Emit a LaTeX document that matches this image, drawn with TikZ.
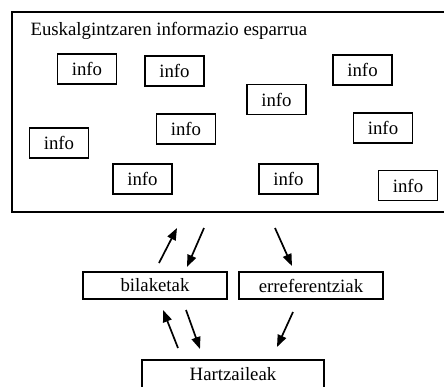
\documentclass[tikz,border=0pt]{standalone}
\usepackage{fontspec}
\setmainfont{Liberation Serif}
\usetikzlibrary{arrows.meta}
\begin{document}
\begin{tikzpicture}[x=1pt,y=-1pt,
  txt/.style={font=\fontsize{18.8}{21}\selectfont},
  infobox/.style={draw,line width=1.8pt,minimum width=59pt,minimum height=30pt,inner sep=0pt,txt},
  labbox/.style={draw,line width=1.8pt,minimum width=144pt,minimum height=27pt,inner sep=0pt,txt},
  arr/.style={line width=1.7pt,-{Triangle[length=12pt,width=9pt]}}]
\useasboundingbox (0,0) rectangle (444,386);
\node[draw,line width=2.2pt,minimum width=437pt,minimum height=200pt,inner sep=0pt,anchor=north west] (space) at (11,11) {};
\node[anchor=base west,txt] (title) at (27,35) {Euskalgintzaren informazio esparrua};
\node[infobox] (i1) at (87,69) {info};
\node[infobox] (i2) at (174.5,71) {info};
\node[infobox] (i3) at (276.5,99.5) {info};
\node[infobox] (i4) at (362.5,70) {info};
\node[infobox] (i5) at (59,143) {info};
\node[infobox] (i6) at (186,129) {info};
\node[infobox] (i7) at (383,128) {info};
\node[infobox] (i8) at (142.5,179) {info};
\node[infobox] (i9) at (288.5,179) {info};
\node[infobox] (i10) at (408,185.5) {info};
\node[labbox] (bil) at (155,285.5) {bilaketak};
\node[labbox] (erref) at (311,285.5) {erreferentziak};
\node[draw,line width=1.8pt,minimum width=182pt,minimum height=40pt,inner sep=0pt,anchor=north] (hartz) at (233,359) {};
\node[anchor=base,txt] (hlab) at (233,380) {Hartzaileak};
\coordinate (a1s) at (159,263); \coordinate (a1e) at (177,228);
\coordinate (a2s) at (204,228); \coordinate (a2e) at (187,267);
\coordinate (a3s) at (275,228); \coordinate (a3e) at (292,266);
\coordinate (a4s) at (178,348); \coordinate (a4e) at (163,310);
\coordinate (a5s) at (186,310); \coordinate (a5e) at (200,349);
\coordinate (a6s) at (293,312); \coordinate (a6e) at (277,347);
\draw[arr] (a1s) -- (a1e);
\draw[arr] (a2s) -- (a2e);
\draw[arr] (a3s) -- (a3e);
\draw[arr] (a4s) -- (a4e);
\draw[arr] (a5s) -- (a5e);
\draw[arr] (a6s) -- (a6e);
\end{tikzpicture}
\end{document}
